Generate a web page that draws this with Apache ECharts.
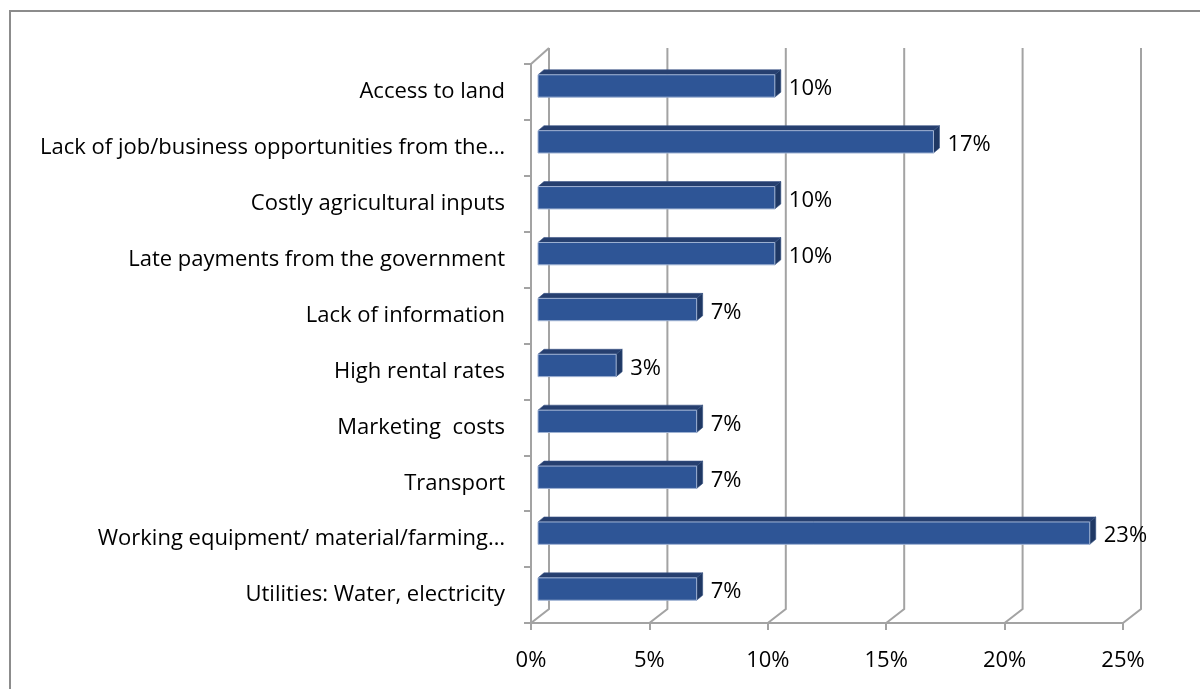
<!DOCTYPE html>
<html>
<head>
<meta charset="utf-8">
<title>Challenges</title>
<script src="https://cdn.jsdelivr.net/npm/echarts@6/dist/echarts.min.js"></script>
<style>
  html, body { margin: 0; padding: 0; background: #ffffff; }
  #chart { width: 1200px; height: 689px; }
</style>
</head>
<body>
<div id="chart"></div>
<script>
// Categories, top to bottom
const categories = [
  'Access to land',
  'Lack of job/business opportunities from the\u2026',
  'Costly agricultural inputs',
  'Late payments from the government',
  'Lack of information',
  'High rental rates',
  'Marketing  costs',
  'Transport',
  'Working equipment/ material/farming\u2026',
  'Utilities: Water, electricity'
];
// Share of respondents (%)
const shares = [10, 16.7, 10, 10, 6.7, 3.3, 6.7, 6.7, 23.3, 6.7];
// Value axis ticks (%)
const tickValues = [0, 5, 10, 15, 20, 25];

const FONT = '"Open Sans", Lato, sans-serif';
const FONT_SIZE = 22;
const LINE = '#a3a3a3';
// depth of the 3D box (back wall offset from the front plane)
const DEPTH_X = 18, DEPTH_Y = -14, TOP_RISE = -16;
// bar placement inside the depth
const BAR_DX = 7, BAR_DY = -6, BAR_DEPTH_X = 6, BAR_DEPTH_Y = -5;

const chart = echarts.init(document.getElementById('chart'), null, { renderer: 'canvas' });

function renderWalls(params, api) {
  const cs = params.coordSys;
  const v = api.value(0);
  const x = api.coord([v, 0])[0];
  const bottom = cs.y + cs.height;
  const pts = [[x, bottom], [x + DEPTH_X, bottom + DEPTH_Y], [x + DEPTH_X, cs.y + TOP_RISE]];
  const children = [{
    type: 'polyline',
    shape: { points: pts },
    style: { stroke: LINE, lineWidth: 2, fill: null }
  }];
  if (v === 0) {
    children.push({
      type: 'line',
      shape: { x1: x, y1: cs.y, x2: x + DEPTH_X, y2: cs.y + TOP_RISE },
      style: { stroke: LINE, lineWidth: 2 }
    });
  }
  return { type: 'group', children };
}

function renderBar(params, api) {
  const idx = api.value(1);
  const val = api.value(0);
  const p0 = api.coord([0, idx]);
  const p1 = api.coord([val, idx]);
  const band = api.size([0, 1])[1];
  const h = band * 0.4;
  const xa = p0[0] + BAR_DX;
  const xb = p1[0] + BAR_DX;
  const cy = p0[1] + BAR_DY;
  const top = cy - h / 2;
  const bot = cy + h / 2;
  const label = Math.round(val) + '%';
  return {
    type: 'group',
    children: [
      {
        type: 'polygon',
        shape: { points: [[xa, top], [xb, top], [xb + BAR_DEPTH_X, top + BAR_DEPTH_Y], [xa + BAR_DEPTH_X, top + BAR_DEPTH_Y]] },
        style: { fill: '#263f6f', stroke: '#3a5486', lineWidth: 0.6 }
      },
      {
        type: 'polygon',
        shape: { points: [[xb, top], [xb + BAR_DEPTH_X, top + BAR_DEPTH_Y], [xb + BAR_DEPTH_X, bot + BAR_DEPTH_Y], [xb, bot]] },
        style: { fill: '#1f3864', stroke: '#34507f', lineWidth: 0.6 }
      },
      {
        type: 'rect',
        shape: { x: xa, y: top, width: xb - xa, height: h },
        style: { fill: '#2e5596', stroke: '#9fb2d3', lineWidth: 1 }
      },
      {
        type: 'text',
        x: xb + BAR_DEPTH_X + 8,
        y: cy + 3,
        style: {
          text: label,
          fill: '#000000',
          font: FONT_SIZE + 'px ' + FONT,
          textAlign: 'left',
          textVerticalAlign: 'middle'
        }
      }
    ]
  };
}

const option = {
  backgroundColor: '#ffffff',
  animation: false,
  graphic: [{
    type: 'rect',
    shape: { x: 10, y: 11, width: 1300, height: 900 },
    style: { fill: null, stroke: '#8c8c8c', lineWidth: 2 },
    silent: true
  }],
  grid: { left: 531, right: 77, top: 64, bottom: 66, containLabel: false },
  xAxis: {
    type: 'value',
    min: 0,
    max: 25,
    interval: 5,
    axisLine: { show: true, lineStyle: { color: LINE, width: 2 } },
    axisTick: { show: true, length: 7, lineStyle: { color: LINE, width: 2 } },
    splitLine: { show: false },
    axisLabel: {
      formatter: '{value}%',
      color: '#000000',
      fontFamily: FONT,
      fontSize: FONT_SIZE,
      margin: 27
    }
  },
  yAxis: {
    type: 'category',
    inverse: true,
    data: categories,
    axisLine: { show: true, lineStyle: { color: LINE, width: 2 } },
    axisTick: { show: true, length: 7, lineStyle: { color: LINE, width: 2 } },
    axisLabel: {
      color: '#000000',
      fontFamily: FONT,
      fontSize: FONT_SIZE,
      margin: 26,
      verticalAlign: 'middle',
      padding: [5, 0, 0, 0]
    }
  },
  series: [
    {
      type: 'custom',
      name: 'walls',
      renderItem: renderWalls,
      data: tickValues.map(v => [v, 0]),
      encode: { x: 0, y: 1 },
      silent: true,
      z: 1
    },
    {
      type: 'custom',
      name: 'shares',
      renderItem: renderBar,
      data: shares.map((v, i) => [v, i]),
      encode: { x: 0, y: 1 },
      z: 3
    }
  ]
};

chart.setOption(option);
</script>
</body>
</html>
